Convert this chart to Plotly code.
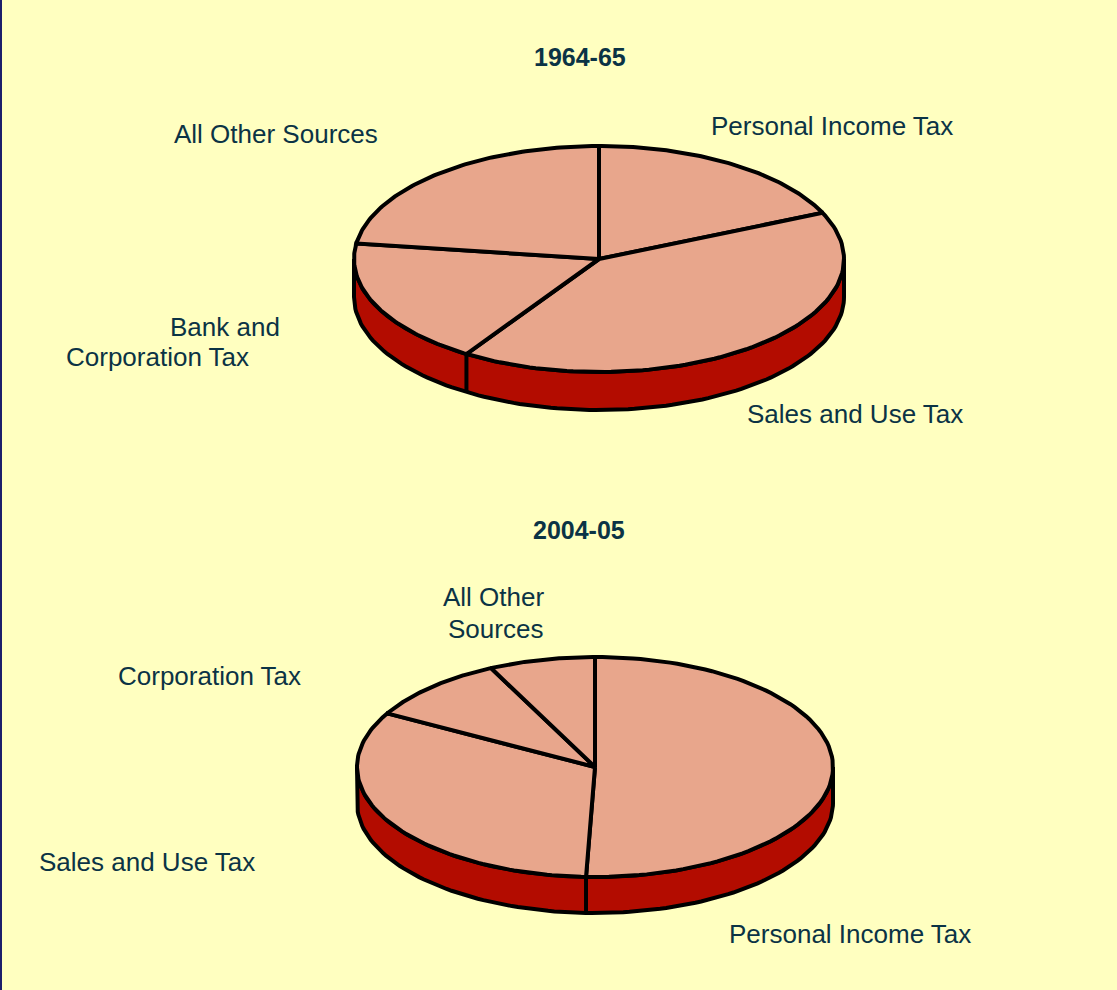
import numpy as np
import plotly.graph_objects as go

# data (shares of total revenue, %)
labels_1965 = ["Personal Income Tax", "Sales and Use Tax", "Bank and Corporation Tax", "All Other Sources"]
shares_1965 = [18.3, 40.8, 18.1, 22.8]

labels_2005 = ["Personal Income Tax", "Sales and Use Tax", "Corporation Tax", "All Other Sources"]
shares_2005 = [50.6, 32.5, 9.7, 7.2]

TOP = "#E8A68C"
SIDE = "#B30C00"
BG = "#FFFFC0"
TXT = "#0B3345"
LW = 4

fig = go.Figure()


def ell(cx, cy, a, b, t, dy=0):
    t = np.radians(t)
    return cx + a * np.sin(t), cy - b * np.cos(t) + dy


def add_pie(shares, cx, cy, a, b, depth):
    # visible front wall
    t1 = np.linspace(90, 270, 120)
    xs, ys = ell(cx, cy, a, b, t1)
    xb, yb = ell(cx, cy, a, b, t1[::-1], depth)
    fig.add_trace(go.Scatter(
        x=np.r_[xs, xb, xs[0]], y=np.r_[ys, yb, ys[0]],
        mode="lines", fill="toself", fillcolor=SIDE,
        line=dict(color="black", width=LW), hoverinfo="skip"))

    bounds = np.r_[0, np.cumsum(shares)] / sum(shares) * 360
    # seams on the wall
    for tb in bounds[1:-1]:
        if 90 < tb < 270:
            x0, y0 = ell(cx, cy, a, b, tb)
            fig.add_trace(go.Scatter(
                x=[x0, x0], y=[y0, y0 + depth], mode="lines",
                line=dict(color="black", width=LW), hoverinfo="skip"))

    # top slices
    for i in range(len(shares)):
        t = np.linspace(bounds[i], bounds[i + 1], 100)
        px, py = ell(cx, cy, a, b, t)
        fig.add_trace(go.Scatter(
            x=np.r_[cx, px, cx], y=np.r_[cy, py, cy],
            mode="lines", fill="toself", fillcolor=TOP,
            line=dict(color="black", width=LW), hoverinfo="skip"))


add_pie(shares_1965, 599, 259, 245, 113, 38)
add_pie(shares_2005, 595, 767, 238, 110, 36)

titles = [("<b>1964-65</b>", 580, 57), ("<b>2004-05</b>", 579, 530)]
for text, x, y in titles:
    fig.add_annotation(x=x, y=y, text=text, showarrow=False,
                       font=dict(size=25, color=TXT))

labels = [
    (labels_1965[0], 832, 126),
    (labels_1965[1], 855, 414),
    ("Bank and", 225, 327),
    ("Corporation Tax", 157, 357),
    (labels_1965[3], 276, 134),
    (labels_2005[0], 850, 934),
    (labels_2005[1], 147, 862),
    (labels_2005[2], 209, 676),
    ("All Other", 493, 597),
    ("Sources", 495, 629),
]
for text, x, y in labels:
    fig.add_annotation(x=x, y=y, text=text, showarrow=False,
                       font=dict(size=26, color=TXT))

fig.update_layout(
    width=1117, height=990,
    margin=dict(l=0, r=0, t=0, b=0),
    paper_bgcolor=BG, plot_bgcolor=BG,
    showlegend=False,
    font=dict(family="Liberation Sans, Arial, sans-serif", color=TXT),
    xaxis=dict(range=[0, 1117], visible=False, fixedrange=True),
    yaxis=dict(range=[990, 0], visible=False, fixedrange=True),
    shapes=[dict(type="line", xref="paper", yref="paper", x0=0, x1=0, y0=0, y1=1,
                 line=dict(color="#1C1F6B", width=4))],
)

fig.write_html("out.html", config={"displayModeBar": False},
               post_script="document.body.style.margin='0';")
